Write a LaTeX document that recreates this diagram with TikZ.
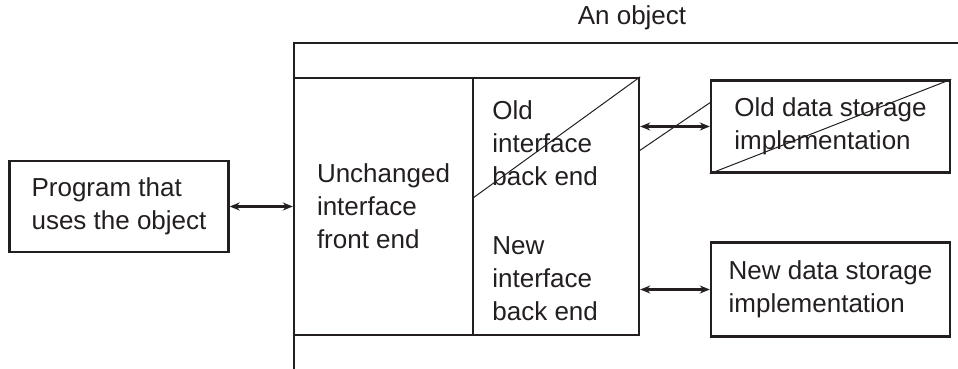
\documentclass[tikz,border=0pt]{standalone}
\usepackage{fontspec}
\setmainfont{Liberation Sans}
\usetikzlibrary{arrows.meta}
\definecolor{ink}{RGB}{35,31,32}
\tikzset{
  box/.style = {draw, line width=1.2pt, inner sep=0pt, align=left},
  txt/.style = {inner sep=0pt, align=left},
  link/.style = {line width=1.2pt, {Stealth[length=5pt,width=4pt]}-{Stealth[length=5pt,width=4pt]}},
  cross/.style = {line width=0.5pt}
}
\begin{document}
\begin{tikzpicture} [x = 0.5pt, y = -0.5pt, color = ink, font = \fontsize{13}{16.5}\selectfont]
	\useasboundingbox (0,0) rectangle (958,369);
	% the object
	\draw [line width = 1.2pt] (958,43) -| (294,369);
	\node [txt] (title) at (632,18) {An object};
	\node [box, minimum width = 219*0.5pt, minimum height = 91*0.5pt] (prog) at (119,206.5) {Program that\\uses the object};
	\node [box, minimum width = 179*0.5pt, minimum height = 257*0.5pt] (front) at (383.5,206.5) {Unchanged\\interface\\front end};
	\node [box, minimum width = 166*0.5pt, minimum height = 257*0.5pt] (back) at (556,206.5) {};
	\node [txt, anchor = west] (oldback) at (492,143) {Old\\interface\\back end};
	\node [txt, anchor = west] (newback) at (492,279) {New\\interface\\back end};
	% storage
	\node [box, minimum width = 239*0.5pt, minimum height = 92*0.5pt] (oldstore) at (830.5,126.5) {Old data storage\\implementation};
	\node [box, minimum width = 239*0.5pt, minimum height = 94*0.5pt] (newstore) at (830.5,289.5) {New data storage\\implementation};
	% links
	\draw [link] (prog.east) -- (prog.east -| front.west);
	\draw [link] (back.east |- oldstore.west) -- (oldstore.west);
	\draw [link] (back.east |- newstore.west) -- (newstore.west);
	% crossed out
	\draw [cross] (back.north east) -- (473,198);
	\draw [cross] (639,151) -- (711,102);
	\draw [cross] (oldstore.south west) -- (oldstore.north east);
\end{tikzpicture}
\end{document}
